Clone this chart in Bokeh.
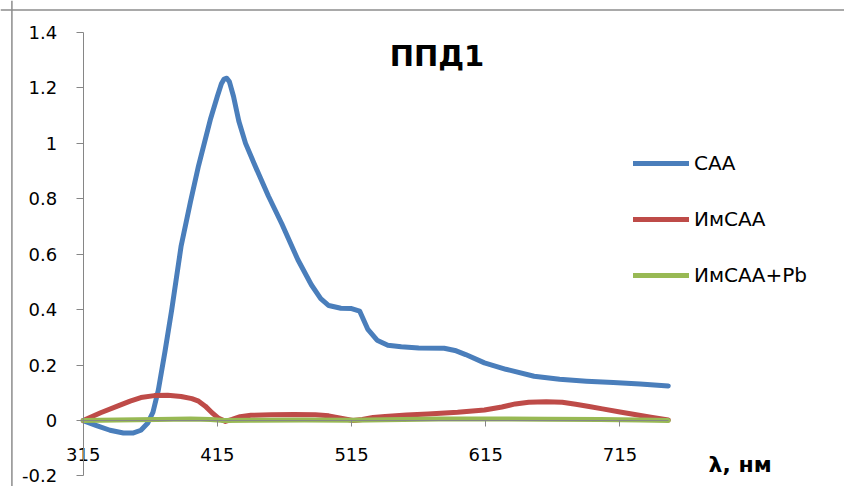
from bokeh.plotting import figure
from bokeh.models import Range1d, FixedTicker, Legend, LegendItem, Label, Span
from bokeh.embed import file_html
from bokeh.resources import INLINE

# ---- data ----
caa_x = [315, 325, 335, 345, 352, 358, 363, 367, 371, 376, 381, 388, 395, 401, 410, 415, 418, 420,
         422, 424, 427, 431, 436, 443, 453, 463, 475, 485, 492, 498, 507, 515, 521, 527, 534, 542, 552,
         565, 584, 592, 600, 614, 630, 651, 670, 690, 710, 730, 751]
caa_y = [0.0, -0.018, -0.035, -0.045, -0.045, -0.035, -0.01, 0.03, 0.11, 0.25, 0.40, 0.63, 0.79, 0.92,
         1.09, 1.17, 1.215, 1.232, 1.235, 1.222, 1.17, 1.08, 1.00, 0.92, 0.81, 0.71, 0.58, 0.49, 0.44,
         0.415, 0.405, 0.404, 0.395, 0.33, 0.29, 0.272, 0.266, 0.262, 0.261, 0.253, 0.238, 0.208,
         0.185, 0.160, 0.149, 0.142, 0.137, 0.132, 0.125]

im_x = [315, 328, 341, 350, 358, 368, 378, 388, 396, 401, 406, 411, 416, 421, 426, 432, 440, 455, 472,
        488, 498, 508, 516, 523, 531, 540, 556, 572, 594, 614, 627, 637, 647, 660, 672, 682, 692,
        702, 715, 726, 738, 751]
im_y = [0.0, 0.028, 0.053, 0.07, 0.083, 0.09, 0.091, 0.087, 0.079, 0.070, 0.052, 0.028, 0.008, -0.003,
        0.004, 0.014, 0.019, 0.021, 0.022, 0.021, 0.017, 0.008, 0.0, 0.004, 0.011, 0.015, 0.020,
        0.024, 0.030, 0.038, 0.049, 0.060, 0.066, 0.068, 0.066, 0.059, 0.051, 0.042, 0.031, 0.022,
        0.012, 0.002]

pb_x = [315, 340, 370, 395, 410, 420, 440, 480, 515, 540, 580, 620, 660, 700, 730, 751]
pb_y = [0.0, 0.002, 0.004, 0.006, 0.004, 0.0, 0.001, 0.002, 0.001, 0.003, 0.006, 0.006, 0.005,
        0.004, 0.002, 0.0]

series_names = ["САА", "ИмСАА", "ИмСАА+Pb"]
series_colors = ["#4A7EBB", "#BE4B48", "#98B954"]
x_ticks = [315, 415, 515, 615, 715]
y_ticks = [-0.2, 0, 0.2, 0.4, 0.6, 0.8, 1, 1.2, 1.4]
title_text = "ППД1"
x_label = "λ, нм"

AXIS = "#868686"
FONT = "DejaVu Sans"

p = figure(width=844, height=486, output_backend="svg", toolbar_location=None,
           x_range=Range1d(253.4, 882.3), y_range=Range1d(-0.2379, 1.5154),
           min_border=0, min_border_left=0, min_border_right=0,
           min_border_top=0, min_border_bottom=0)
p.outline_line_color = None
p.background_fill_color = "white"
p.border_fill_color = "white"
p.xgrid.visible = False
p.ygrid.visible = False

# axes crossing at (315, 0)
p.xaxis.fixed_location = 0
p.yaxis.fixed_location = x_ticks[0]
p.xaxis.bounds = (x_ticks[0], caa_x[-1])
p.yaxis.bounds = (y_ticks[0], y_ticks[-1])
p.xaxis.ticker = FixedTicker(ticks=x_ticks)
p.yaxis.ticker = FixedTicker(ticks=y_ticks)
p.yaxis.major_label_overrides = {t: ("{:g}".format(t)) for t in y_ticks}
for ax in (p.xaxis[0], p.yaxis[0]):
    ax.axis_line_color = AXIS
    ax.axis_line_width = 1
    ax.major_tick_line_color = AXIS
    ax.major_tick_in = 0
    ax.minor_tick_line_color = None
    ax.major_label_text_font = FONT
    ax.major_label_text_font_size = "18px"
    ax.major_label_text_color = "black"
p.xaxis.major_tick_out = 6
p.yaxis.major_tick_out = 7
p.xaxis.major_label_standoff = 21
p.yaxis.major_label_standoff = 19

# outer chart border (left and top edges visible in the reference)
p.add_layout(Span(location=261.9, dimension="height", line_color="#8c8c8c", line_width=1.5))
p.add_layout(Span(location=1.4812, dimension="width", line_color="#8c8c8c", line_width=1.5))

renderers = []
for xs, ys, c in [(caa_x, caa_y, series_colors[0]), (im_x, im_y, series_colors[1]),
                  (pb_x, pb_y, series_colors[2])]:
    r = p.line(xs, ys, line_color=c, line_width=5, line_cap="round", line_join="round")
    renderers.append(r)

legend = Legend(items=[LegendItem(label=n, renderers=[r]) for n, r in zip(series_names, renderers)],
                location=(633, 199), orientation="vertical",
                glyph_width=56, glyph_height=24, label_height=24, spacing=32,
                label_standoff=5, padding=0, margin=0,
                border_line_color=None, background_fill_alpha=0,
                label_text_font=FONT, label_text_font_size="20px", label_text_color="black")
p.add_layout(legend)

p.add_layout(Label(x=578.6, y=1.3134, text=title_text, text_align="center",
                   text_baseline="alphabetic", text_font=FONT, text_font_style="bold",
                   text_font_size="29px", text_color="black"))
p.add_layout(Label(x=781, y=-0.1585, text=x_label, text_align="left",
                   text_baseline="alphabetic", text_font=FONT, text_font_style="bold",
                   text_font_size="22px", text_color="black"))

open("out.html", "w").write(file_html(p, INLINE))
